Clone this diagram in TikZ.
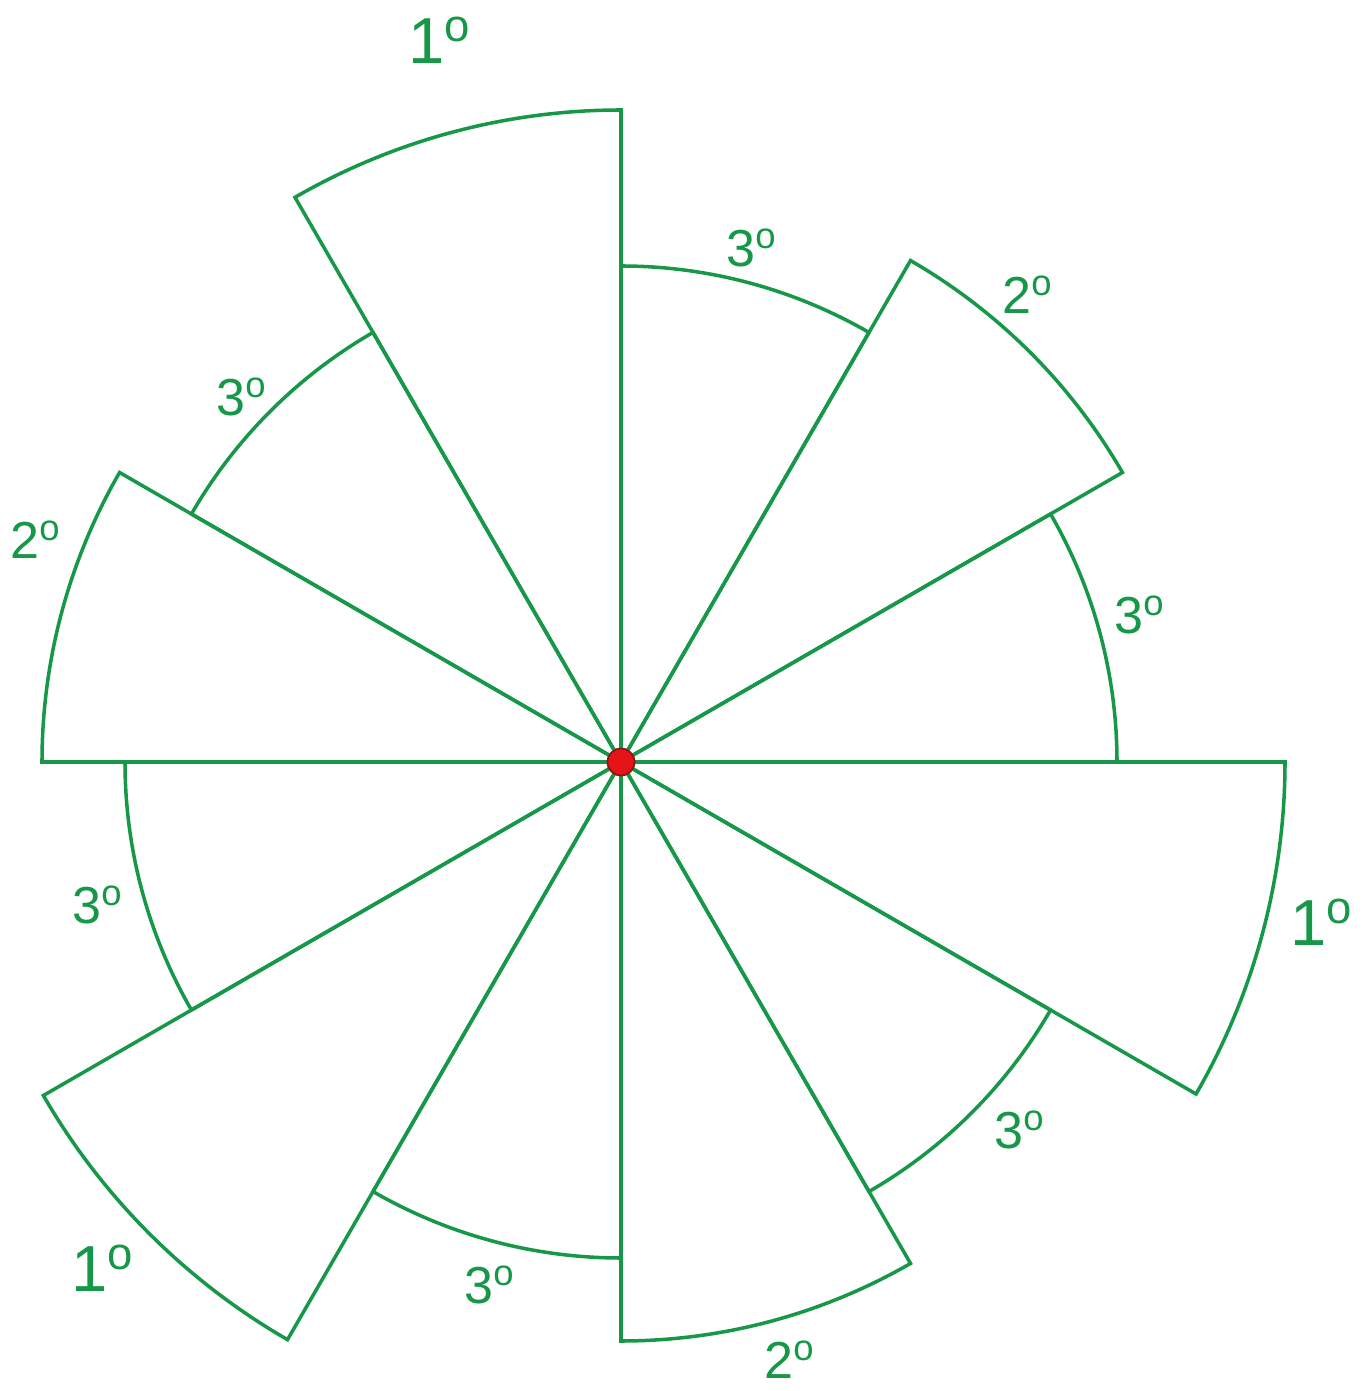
\documentclass[tikz,border=0pt]{standalone}
\usepackage{fontspec}
\setmainfont{Liberation Sans}
\definecolor{gr}{RGB}{22,152,72}
\definecolor{dotred}{RGB}{230,20,25}
\definecolor{dotedge}{RGB}{140,20,20}
\begin{document}
\begin{tikzpicture}[x=0.01cm,y=0.01cm,
  wedge/.style={draw=gr,line width=1pt,line join=miter},
  biglab/.style={text=gr,font=\fontsize{18.5}{20}\selectfont,inner sep=0pt},
  smalllab/.style={text=gr,font=\fontsize{14.8}{16}\selectfont,inner sep=0pt}]
\useasboundingbox (-621,-629) rectangle (749,762);
\def\rB{579}\def\rC{496}
% third-order sectors
\foreach \a in {0,60,120,180,240,300}
  \draw[wedge] (0,0) -- (\a:\rC) arc[start angle=\a, end angle=\a+30, radius=\rC] -- cycle;
% second-order sectors
\foreach \a in {30,150,270}
  \draw[wedge] (0,0) -- (\a:\rB) arc[start angle=\a, end angle=\a+30, radius=\rB] -- cycle;
% first-order sectors
\foreach \a/\r in {90/652,210/667,330/664}
  \draw[wedge] (0,0) -- (\a:\r) arc[start angle=\a, end angle=\a+30, radius=\r] -- cycle;
\node[circle,fill=dotred,draw=dotedge,line width=0.5pt,inner sep=0pt,minimum size=0.27cm] (c) at (0,0) {};
% labels
\node[biglab] (l1a) at (-181,722) {1\textsuperscript{o}};
\node[biglab] (l1b) at (701,-160) {1\textsuperscript{o}};
\node[biglab] (l1c) at (-518,-506) {1\textsuperscript{o}};
\node[smalllab] (l2a) at (407,467) {2\textsuperscript{o}};
\node[smalllab] (l2b) at (169,-598) {2\textsuperscript{o}};
\node[smalllab] (l2c) at (-585,222) {2\textsuperscript{o}};
\node[smalllab] (l3a) at (131,514) {3\textsuperscript{o}};
\node[smalllab] (l3b) at (519,147) {3\textsuperscript{o}};
\node[smalllab] (l3c) at (399,-368) {3\textsuperscript{o}};
\node[smalllab] (l3d) at (-131,-523) {3\textsuperscript{o}};
\node[smalllab] (l3e) at (-523,-143) {3\textsuperscript{o}};
\node[smalllab] (l3f) at (-379,365) {3\textsuperscript{o}};
\end{tikzpicture}
\end{document}
